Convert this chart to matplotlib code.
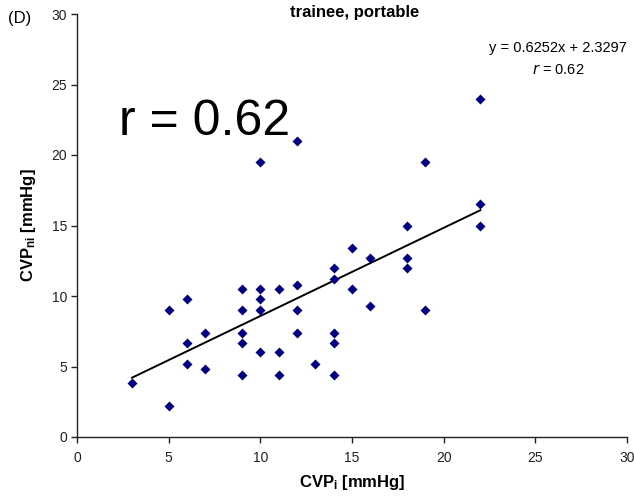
import matplotlib
matplotlib.use("Agg")
import matplotlib.pyplot as plt
import numpy as np

plt.rcParams['font.family'] = ['Liberation Sans', 'DejaVu Sans']
plt.rcParams['mathtext.default'] = 'regular'

# Data
cvp_i = [3, 5, 5, 6, 6, 6, 7, 7,
         9, 9, 9, 9, 9,
         10, 10, 10, 10, 10,
         11, 11, 11,
         12, 12, 12, 12,
         13,
         14, 14, 14, 14, 14,
         15, 15, 16, 16,
         18, 18, 18, 19, 19,
         22, 22, 22]
cvp_ni = [3.8, 2.2, 9.0, 9.8, 6.7, 5.2, 7.4, 4.8,
          10.5, 9.0, 7.4, 6.7, 4.4,
          19.5, 10.5, 9.8, 9.0, 6.0,
          10.5, 6.0, 4.4,
          21.0, 10.8, 9.0, 7.4,
          5.2,
          12.0, 11.2, 7.4, 6.7, 4.4,
          13.4, 10.5, 12.7, 9.3,
          15.0, 12.7, 12.0, 19.5, 9.0,
          24.0, 16.5, 15.0]
slope = 0.6252
intercept = 2.3297
r_value = 0.62
x_ticks = [0, 5, 10, 15, 20, 25, 30]
y_ticks = [0, 5, 10, 15, 20, 25, 30]

fig = plt.figure(figsize=(6.34, 4.97), dpi=100)
ax = fig.add_axes([77/634, 60/497, 550/634, 423/497])

ax.scatter(cvp_i, cvp_ni, marker='D', s=26, color='#000080', linewidths=0, zorder=3)
xs = np.array([min(cvp_i), max(cvp_i)])
ax.plot(xs, slope * xs + intercept, color='black', lw=1.4, zorder=2)

ax.set_xlim(0, 30)
ax.set_ylim(0, 30)
ax.set_xticks(x_ticks)
ax.set_yticks(y_ticks)
for s in ['top', 'right']:
    ax.spines[s].set_visible(False)
for s in ['left', 'bottom']:
    ax.spines[s].set_linewidth(1.0)
    ax.spines[s].set_color('#222222')
ax.tick_params(direction='out', length=4, width=1, colors='#222222', labelsize=10)
ax.tick_params(axis='y', pad=3)
ax.tick_params(axis='x', pad=6)

ax.set_xlabel('CVP$_{i}$ [mmHg]', fontsize=12, fontweight='bold', labelpad=6)
ax.set_ylabel('CVP$_{ni}$ [mmHg]', fontsize=12, fontweight='bold', labelpad=10)

fig.text(355/634, 1 - 13/497, 'trainee, portable', ha='center', va='center',
         fontsize=12, fontweight='bold')
fig.text(8/634, 1 - 18/497, '(D)', ha='left', va='center', fontsize=12)
fig.text(119/634, 1 - 135/497, f'r = {r_value:.2f}', ha='left', va='baseline', fontsize=36)
fig.text(558/634, 1 - 48/497, f'y = {slope}x + {intercept}', ha='center', va='center',
         fontsize=10.5)
fig.text(558/634, 1 - 70/497, f'$\\it{{r}}$ = {r_value:.2f}', ha='center', va='center',
         fontsize=10.5)

fig.savefig('out.png', dpi=100)
